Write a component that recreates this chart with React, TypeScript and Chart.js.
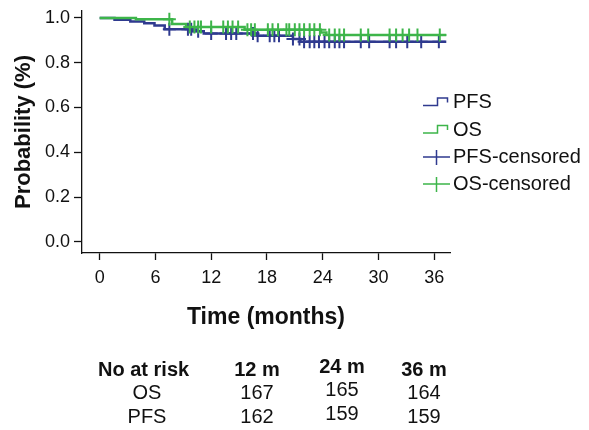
import React, { useEffect, useRef } from 'react';
import { Chart, registerables } from 'chart.js';

Chart.register(...registerables);

// ---- data ----
const xTicks = [0, 6, 12, 18, 24, 30, 36];
const yTicks = [0, 0.2, 0.4, 0.6, 0.8, 1.0];

const osTimes = [0, 3.9, 7.8, 9.3, 15.6, 23.8, 24.4, 37.3];
const osSurv = [1.0, 0.994, 0.973, 0.96, 0.947, 0.935, 0.924, 0.924];

const pfsTimes = [0, 1.6, 3.3, 4.8, 5.9, 7.0, 10.0, 11.2, 17.0, 20.8, 21.6, 37.3];
const pfsSurv = [1.0, 0.992, 0.984, 0.976, 0.966, 0.95, 0.94, 0.931, 0.92, 0.906, 0.894, 0.894];

const osCensored = [7.5, 9.7, 10.2, 10.6, 10.9, 12.0, 13.3, 13.8, 14.3, 14.9, 15.9, 16.3, 16.7, 18.1, 18.6, 19.2, 20.1, 20.4, 21.0, 21.5, 22.0, 22.6, 23.1, 23.7, 24.7, 25.3, 25.8, 26.3, 28.1, 28.9, 31.2, 31.9, 32.6, 33.3, 34.2, 36.6];
const pfsCensored = [7.5, 9.5, 9.85, 10.6, 12.0, 13.6, 14.15, 14.7, 16.5, 17.0, 18.3, 18.8, 19.3, 20.8, 21.5, 22.0, 22.6, 23.1, 23.6, 24.2, 24.7, 25.3, 25.8, 26.3, 28.1, 29.0, 31.2, 31.9, 33.1, 34.6, 36.5];

const legendLabels = ['PFS', 'OS', 'PFS-censored', 'OS-censored'];
const riskHeader = 'No at risk';
const riskCols = ['12 m', '24 m', '36 m'];
const riskRowLabels = ['OS', 'PFS'];
const riskOS = [167, 165, 164];
const riskPFS = [162, 159, 159];

const BLUE = '#2f3a8f';
const GREEN = '#3db54a';
const FONT = "'Liberation Sans', Arial, sans-serif";

function stepAt(times: number[], surv: number[], t: number): number {
  let v = surv[0];
  for (let i = 0; i < times.length; i++) {
    if (times[i] <= t) v = surv[i];
  }
  return v;
}

const extrasPlugin = {
  id: 'extras',
  afterDraw(chart: any) {
    const ctx: CanvasRenderingContext2D = chart.ctx;
    ctx.save();
    // legend
    const rows = [102.5, 130, 157, 184];
    const colors = [BLUE, GREEN, BLUE, GREEN];
    rows.forEach((y, i) => {
      ctx.strokeStyle = colors[i];
      ctx.lineWidth = 1.5;
      ctx.beginPath();
      if (i < 2) {
        ctx.moveTo(423, y + 3);
        ctx.lineTo(437.5, y + 3);
        ctx.lineTo(437.5, y - 4.5);
        ctx.lineTo(447.5, y - 4.5);
        ctx.lineTo(447.5, y);
      } else {
        ctx.moveTo(423, y);
        ctx.lineTo(450, y);
        ctx.moveTo(436.5, y - 7);
        ctx.lineTo(436.5, y + 8);
      }
      ctx.stroke();
      ctx.fillStyle = '#111';
      ctx.font = `20px ${FONT}`;
      ctx.textAlign = 'left';
      ctx.textBaseline = 'middle';
      ctx.fillText(legendLabels[i], 453, y);
    });

    // risk table
    const colX = [257, 342, 424];
    const colDy = [0, -3, 0];
    ctx.fillStyle = '#111';
    ctx.textBaseline = 'middle';
    ctx.font = `bold 20px ${FONT}`;
    ctx.textAlign = 'left';
    ctx.fillText(riskHeader, 98, 370);
    ctx.textAlign = 'center';
    riskCols.forEach((c, i) => ctx.fillText(c, colX[i], 370 + colDy[i]));
    ctx.font = `20px ${FONT}`;
    ctx.fillText(riskRowLabels[0], 147, 393);
    ctx.fillText(riskRowLabels[1], 147, 417);
    riskOS.forEach((v, i) => ctx.fillText(String(v), colX[i], 393 + colDy[i]));
    riskPFS.forEach((v, i) => ctx.fillText(String(v), colX[i], 417 + colDy[i]));
    ctx.restore();
  },
};

export default function App() {
  const ref = useRef<HTMLCanvasElement | null>(null);

  useEffect(() => {
    if (!ref.current) return;
    Chart.defaults.font.family = FONT;
    Chart.defaults.color = '#111';
    const osLine = osTimes.map((t, i) => ({ x: t, y: osSurv[i] }));
    const pfsLine = pfsTimes.map((t, i) => ({ x: t, y: pfsSurv[i] }));
    const osCens = osCensored.map((t) => ({ x: t, y: stepAt(osTimes, osSurv, t) }));
    const pfsCens = pfsCensored.map((t) => ({ x: t, y: stepAt(pfsTimes, pfsSurv, t) }));

    const chart = new Chart(ref.current, {
      type: 'line',
      data: {
        datasets: [
          {
            label: 'OS-censored',
            data: osCens,
            showLine: false,
            pointStyle: 'cross',
            pointRadius: 6.5,
            pointBorderWidth: 2,
            borderColor: GREEN,
            backgroundColor: GREEN,
          },
          {
            label: 'OS',
            data: osLine,
            stepped: true,
            borderColor: GREEN,
            borderWidth: 2.5,
            pointRadius: 0,
            fill: false,
          },
          {
            label: 'PFS-censored',
            data: pfsCens,
            showLine: false,
            pointStyle: 'cross',
            pointRadius: 6.5,
            pointBorderWidth: 2,
            borderColor: BLUE,
            backgroundColor: BLUE,
          },
          {
            label: 'PFS',
            data: pfsLine,
            stepped: true,
            borderColor: BLUE,
            borderWidth: 2.5,
            pointRadius: 0,
            fill: false,
          },
        ] as any,
      },
      options: {
        animation: false,
        responsive: false,
        devicePixelRatio: 1,
        layout: { padding: { left: 0, right: 139, top: 11, bottom: 99 } },
        plugins: {
          legend: { display: false },
          tooltip: { enabled: false },
        },
        scales: {
          x: {
            type: 'linear',
            min: -1.9,
            max: 37.7,
            afterBuildTicks: (scale: any) => {
              scale.ticks = xTicks.map((v) => ({ value: v }));
            },
            afterFit: (scale: any) => {
              scale.height = 78;
              scale.paddingLeft = 0;
              scale.paddingRight = 0;
            },
            ticks: {
              autoSkip: false,
              maxRotation: 0,
              padding: 7,
              color: '#111',
              font: { size: 18, family: FONT },
              callback: (v: any) => String(v),
            },
            grid: {
              drawOnChartArea: false,
              drawTicks: true,
              tickLength: 7,
              tickColor: '#111',
              tickWidth: 1.3,
            },
            border: { display: true, color: '#111', width: 1.3 },
            title: {
              display: true,
              text: 'Time (months)',
              color: '#111',
              font: { size: 23, weight: 'bold', family: FONT },
              padding: { top: 0, bottom: 0 },
            },
          },
          y: {
            type: 'linear',
            min: -0.05,
            max: 1.031,
            afterBuildTicks: (scale: any) => {
              scale.ticks = yTicks.map((v) => ({ value: v }));
            },
            afterFit: (scale: any) => {
              scale.width = 82;
              scale.paddingTop = 0;
              scale.paddingBottom = 0;
            },
            ticks: {
              autoSkip: false,
              padding: 4,
              color: '#111',
              font: { size: 18, family: FONT },
              callback: (v: any) => Number(v).toFixed(1),
            },
            grid: {
              drawOnChartArea: false,
              drawTicks: true,
              tickLength: 8,
              tickColor: '#111',
              tickWidth: 1.3,
            },
            border: { display: true, color: '#111', width: 1.3 },
            title: {
              display: true,
              text: 'Probability (%)',
              color: '#111',
              font: { size: 22, weight: 'bold', family: FONT },
              padding: { top: 11, bottom: 0 },
            },
          },
        },
      } as any,
      plugins: [extrasPlugin],
    });
    return () => chart.destroy();
  }, []);

  return (
    <div style={{ position: 'fixed', left: 0, top: 0, width: 589, height: 430, background: '#fff' }}>
      <canvas ref={ref} width={589} height={430} style={{ width: 589, height: 430, display: 'block' }} />
    </div>
  );
}
